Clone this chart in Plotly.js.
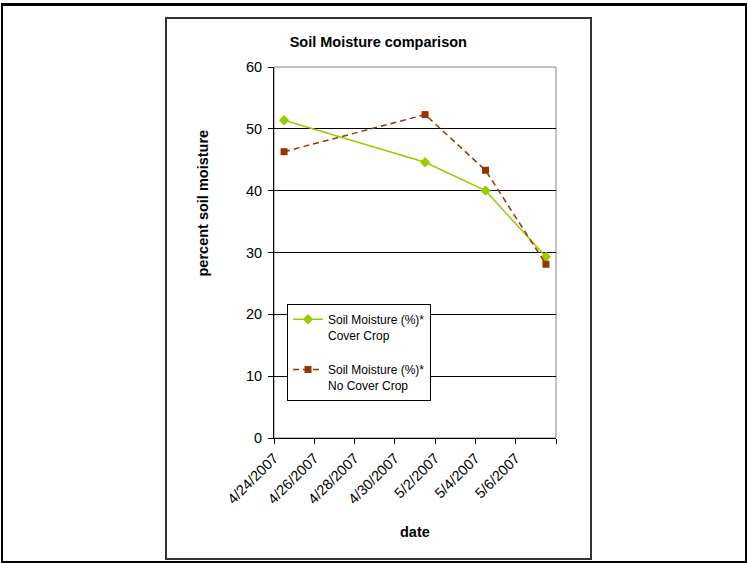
<!DOCTYPE html>
<html>
<head>
<meta charset="utf-8">
<script src="https://cdn.plot.ly/plotly-3.0.1.min.js"></script>
<style>
  html, body { margin: 0; padding: 0; background: #fff; width: 747px; height: 563px; overflow: hidden; }
  #outer { position: absolute; left: 1px; top: 3px; width: 746px; height: 560px; box-sizing: border-box;
           border-style: solid; border-color: #000; border-width: 3px 2px 2px 2px; }
  #inner { position: absolute; left: 165px; top: 17px; width: 427px; height: 543px; box-sizing: border-box;
           border: 2px solid #333; }
  #chart { position: absolute; left: 0; top: 0; width: 747px; height: 563px; }
</style>
</head>
<body>
<div id="outer"></div>
<div id="inner"></div>
<div id="chart"></div>
<script>
// ---- data ----
const dates = ['2007-04-24', '2007-05-01', '2007-05-04', '2007-05-07'];
const coverCrop = [51.4, 44.6, 40.0, 29.3];
const noCoverCrop = [46.3, 52.3, 43.3, 28.1];
const tickDates = ['2007-04-24', '2007-04-26', '2007-04-28', '2007-04-30', '2007-05-02', '2007-05-04', '2007-05-06'];
const tickLabels = ['4/24/2007', '4/26/2007', '4/28/2007', '4/30/2007', '5/2/2007', '5/4/2007', '5/6/2007'];
const seriesNames = ['Soil Moisture (%)*<br>Cover Crop', 'Soil Moisture (%)*<br>No Cover Crop'];

// Excel date axis plots each day's value in the middle of the day
const xs = dates.map(d => d + ' 12:00');

const FONT = 'Arial, "Liberation Sans", sans-serif';

const traces = [
  {
    x: xs, y: coverCrop, name: seriesNames[0], type: 'scatter', mode: 'lines+markers',
    line: { color: '#99CC00', width: 1.5 },
    marker: { symbol: 'diamond', size: 8, color: '#99CC00' },
    legendgroup: 'a'
  },
  {
    x: xs, y: noCoverCrop, name: seriesNames[1], type: 'scatter', mode: 'lines+markers',
    line: { color: '#993300', width: 1.5, dash: '6px,4px' },
    marker: { symbol: 'square', size: 7, color: '#993300' },
    legendgroup: 'b'
  }
];

const layout = {
  width: 747, height: 563,
  margin: { l: 274, r: 191, t: 67, b: 125, pad: 0 },
  paper_bgcolor: 'rgba(0,0,0,0)',
  plot_bgcolor: '#fff',
  font: { family: FONT, color: '#000', size: 14.5 },
  title: {
    text: '<b>Soil Moisture comparison</b>',
    font: { family: FONT, size: 14.5, color: '#000' },
    xref: 'container', yref: 'container',
    x: 378.3 / 747, y: 1 - 41.5 / 563, xanchor: 'center', yanchor: 'middle'
  },
  xaxis: {
    type: 'date',
    range: ['2007-04-24', '2007-05-08'],
    tickmode: 'array', tickvals: tickDates, ticktext: tickLabels,
    tickangle: -45,
    ticks: 'outside', ticklen: 5, tickcolor: '#000', tickwidth: 1,
    minor: { tickvals: ['2007-05-08'], ticks: 'outside', ticklen: 5, tickcolor: '#000', tickwidth: 1, showgrid: false },
    showline: true, linecolor: '#000', linewidth: 1,
    showgrid: false, zeroline: false,
    tickfont: { family: FONT, size: 14.5, color: '#000' },
    fixedrange: true
  },
  yaxis: {
    range: [0, 60], dtick: 10, tick0: 0,
    ticks: 'outside', ticklen: 5, tickcolor: '#000', tickwidth: 1,
    showline: true, linecolor: '#000', linewidth: 1,
    showgrid: true, gridcolor: '#000', gridwidth: 1, zeroline: false,
    tickfont: { family: FONT, size: 14.5, color: '#000' },
    ticklabelstandoff: 3,
    fixedrange: true
  },
  shapes: [
    { type: 'rect', xref: 'paper', yref: 'paper', x0: 0, x1: 1, y0: 0, y1: 1,
      line: { color: '#808080', width: 1 }, layer: 'between' }
  ],
  annotations: [
    { text: '<b>percent soil moisture</b>', xref: 'paper', yref: 'paper',
      x: (202.5 - 274) / 282, y: (438 - 203) / 371, xanchor: 'center', yanchor: 'middle',
      textangle: -90, showarrow: false, font: { family: FONT, size: 14.5, color: '#000' } },
    { text: '<b>date</b>', xref: 'paper', yref: 'paper',
      x: 0.5, y: (438 - 532) / 371, xanchor: 'center', yanchor: 'middle',
      showarrow: false, font: { family: FONT, size: 14.5, color: '#000' } }
  ],
  showlegend: true,
  legend: {
    x: (287 - 274) / 282, y: (438 - 304) / 371, xanchor: 'left', yanchor: 'top',
    bgcolor: '#fff', bordercolor: '#000', borderwidth: 1,
    font: { family: FONT, size: 12, color: '#000' },
    valign: 'top', tracegroupgap: 16, traceorder: 'grouped',
    itemwidth: 30
  }
};

Plotly.newPlot('chart', traces, layout, { displayModeBar: false, staticPlot: true });
</script>
</body>
</html>
